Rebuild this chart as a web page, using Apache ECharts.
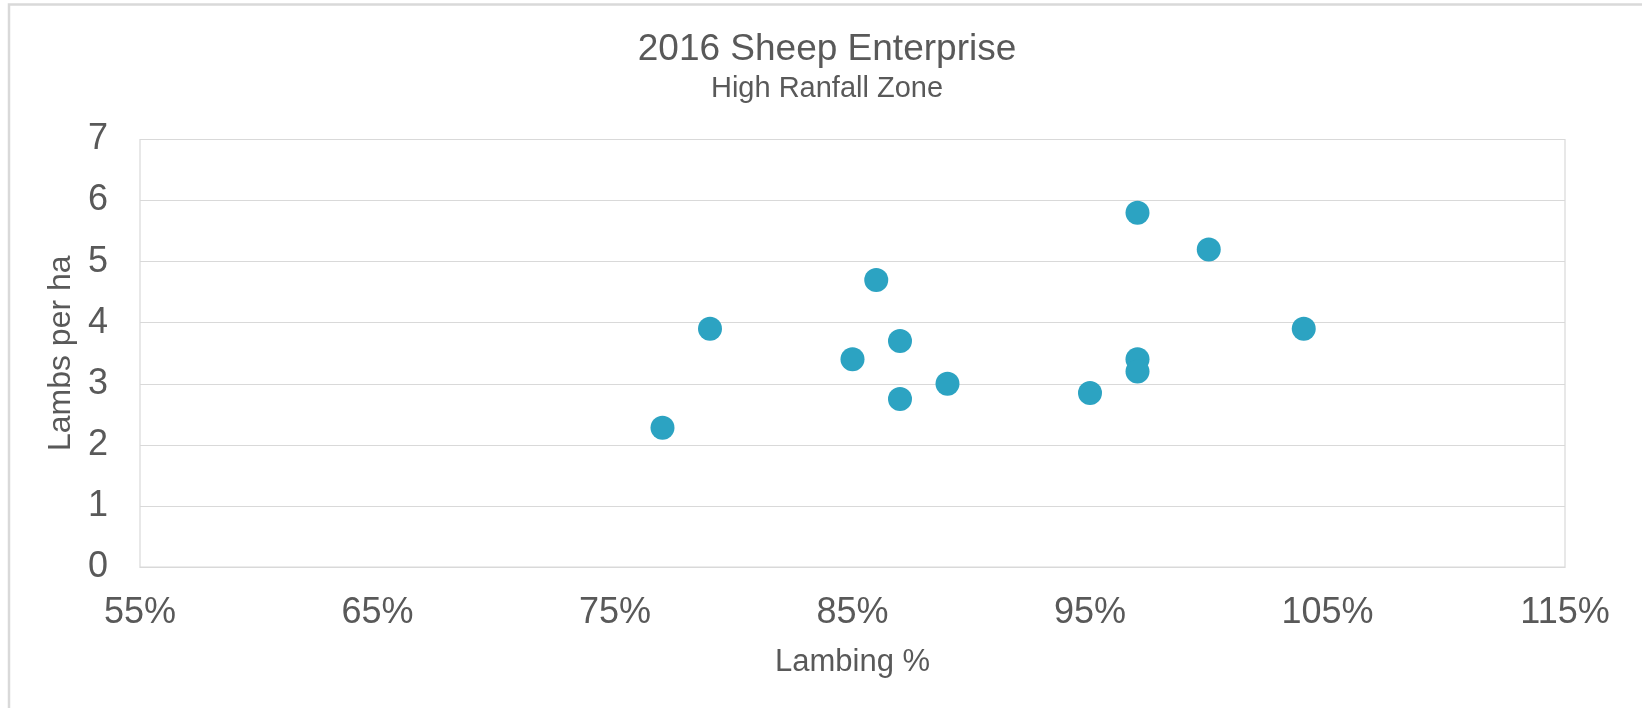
<!DOCTYPE html>
<html>
<head>
<meta charset="utf-8">
<script src="https://cdn.jsdelivr.net/npm/echarts@6/dist/echarts.min.js"></script>
<style>
  html, body { margin: 0; padding: 0; background: #ffffff; }
  #chart { width: 1642px; height: 708px; }
</style>
</head>
<body>
<div id="chart"></div>
<script>
// Data
const lambingPct = [97, 100, 86, 79, 87, 85, 97, 97, 89, 95, 87, 77, 104];
const lambsPerHa = [5.8, 5.2, 4.7, 3.9, 3.7, 3.4, 3.4, 3.2, 3.0, 2.85, 2.75, 2.28, 3.9];
const xTickLabels = [55, 65, 75, 85, 95, 105, 115];
const yTickLabels = [0, 1, 2, 3, 4, 5, 6, 7];

const points = lambingPct.map((x, i) => [x, lambsPerHa[i]]);
const FONT = '"Liberation Sans", Arial, sans-serif';
const TXT = '#595959';
const GRID = '#d9d9d9';

const chart = echarts.init(document.getElementById('chart'), null, { renderer: 'canvas' });
chart.setOption({
  backgroundColor: '#ffffff',
  animation: false,
  textStyle: { fontFamily: FONT },
  graphic: [{
    type: 'rect',
    shape: { x: 9, y: 4.5, width: 1640, height: 720 },
    style: { fill: 'none', stroke: GRID, lineWidth: 2.5 },
    silent: true,
    z: -1
  }],
  title: {
    text: '2016 Sheep Enterprise',
    subtext: 'High Ranfall Zone',
    left: 822,
    textAlign: 'center',
    top: 26,
    itemGap: 6,
    textStyle: { fontFamily: FONT, fontSize: 37, fontWeight: 'normal', color: TXT },
    subtextStyle: { fontFamily: FONT, fontSize: 29, color: TXT }
  },
  grid: {
    left: 140, right: 77, top: 139.5, bottom: 141,
    show: true, borderColor: GRID, borderWidth: 1.2
  },
  xAxis: {
    type: 'value',
    min: 55, max: 115, interval: 5,
    name: 'Lambing %',
    nameLocation: 'middle',
    nameGap: 80,
    nameTextStyle: { fontFamily: FONT, fontSize: 31, color: TXT },
    axisLine: { show: true, lineStyle: { color: GRID, width: 1.2 } },
    axisTick: { show: false },
    splitLine: { show: false },
    axisLabel: {
      fontFamily: FONT, fontSize: 36, color: TXT, margin: 28,
      showMinLabel: true, showMaxLabel: true,
      formatter: function (v) {
        return xTickLabels.indexOf(Math.round(v)) >= 0 ? Math.round(v) + '%' : '';
      }
    }
  },
  yAxis: {
    type: 'value',
    min: 0, max: 7, interval: 1,
    name: 'Lambs per ha',
    nameLocation: 'middle',
    nameRotate: 90,
    nameGap: 63,
    nameTextStyle: { fontFamily: FONT, fontSize: 32, color: TXT },
    axisLine: { show: false },
    axisTick: { show: false },
    splitLine: { show: true, lineStyle: { color: GRID, width: 1.2 } },
    axisLabel: {
      fontFamily: FONT, fontSize: 36, color: TXT, margin: 32,
      formatter: function (v) { return yTickLabels.indexOf(v) >= 0 ? String(v) : ''; }
    }
  },
  series: [{
    type: 'scatter',
    data: points,
    symbol: 'circle',
    symbolSize: 24,
    itemStyle: { color: '#2ca3c2', opacity: 1 }
  }]
});
</script>
</body>
</html>
